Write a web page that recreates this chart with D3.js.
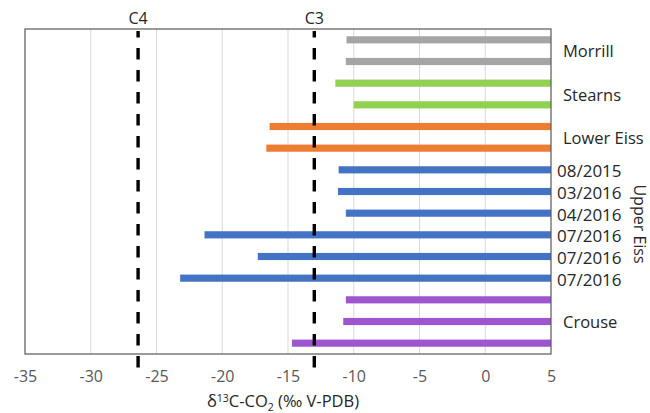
<!DOCTYPE html>
<html><head><meta charset="utf-8">
<script src="https://cdn.jsdelivr.net/npm/d3@7"></script>
<style>body{margin:0;background:#fff}svg{display:block}</style>
</head><body>
<svg id="chart" width="650" height="413"></svg>
<script>
const categories = ["M1","M2","S1","S2","L1","L2","U1","U2","U3","U4","U5","U6","C1","C2","C3"];
const values = [-10.55,-10.6,-11.4,-10.0,-16.4,-16.65,-11.15,-11.2,-10.6,-21.35,-17.3,-23.2,-10.6,-10.8,-14.7];
const groups = ["Morrill","Morrill","Stearns","Stearns","Lower Eiss","Lower Eiss","Upper Eiss","Upper Eiss","Upper Eiss","Upper Eiss","Upper Eiss","Upper Eiss","Crouse","Crouse","Crouse"];
const groupColors = {"Morrill":"#a5a5a5","Stearns":"#92d050","Lower Eiss":"#ed7d31","Upper Eiss":"#4472c4","Crouse":"#9e55d0"};
const barLabels = ["","","","","","","08/2015","03/2016","04/2016","07/2016","07/2016","07/2016","","",""];
const groupLabels = [{name:"Morrill",at:["M1","M2"]},{name:"Stearns",at:["S1","S2"]},{name:"Lower Eiss",at:["L1","L2"]},{name:"Crouse",at:["C2","C2"]}];
const xTicks = [-35,-30,-25,-20,-15,-10,-5,0,5];
const refLines = [{name:"C4",value:-26.4},{name:"C3",value:-13.0}];

const svg = d3.select("#chart");
const m = {left:25, right:551, top:29, bottom:354};
const x = d3.scaleLinear().domain([-35,5]).range([m.left,m.right]);
const y = d3.scaleBand().domain(categories).range([m.top,m.bottom]).paddingInner(0.67).paddingOuter(0.335);
const font = "'Open Sans', sans-serif";

// gridlines
svg.append("g").selectAll("line").data(xTicks.slice(1,-1)).join("line")
  .attr("x1",d=>x(d)).attr("x2",d=>x(d)).attr("y1",m.top).attr("y2",m.bottom)
  .attr("stroke","#d9d9d9").attr("stroke-width",1);

// bars
svg.append("g").selectAll("rect").data(categories).join("rect")
  .attr("x",(d,i)=>x(values[i])).attr("width",(d,i)=>x(5)-x(values[i]))
  .attr("y",d=>y(d)).attr("height",y.bandwidth())
  .attr("fill",(d,i)=>groupColors[groups[i]]);

// frame
svg.append("rect").attr("x",m.left).attr("y",m.top).attr("width",m.right-m.left).attr("height",m.bottom-m.top)
  .attr("fill","none").attr("stroke","#595959").attr("stroke-width",1.2);

// axis
const axis = d3.axisBottom(x).tickValues(xTicks).tickSize(0).tickPadding(17).tickFormat(d=>d<0?"-"+Math.abs(d):d);
const ag = svg.append("g").attr("transform",`translate(0,${m.bottom})`).call(axis);
ag.select(".domain").remove();
ag.selectAll("text").attr("font-family",font).attr("font-size",16).attr("fill","#595959");

// reference dashed lines
svg.append("g").selectAll("line").data(refLines).join("line")
  .attr("x1",d=>x(d.value)).attr("x2",d=>x(d.value)).attr("y1",31).attr("y2",378)
  .attr("stroke","#000").attr("stroke-width",3.4).attr("stroke-dasharray","11.5,10.5").attr("stroke-dashoffset",5);
svg.append("g").selectAll("text").data(refLines).join("text")
  .attr("x",d=>x(d.value)).attr("y",24).attr("text-anchor","middle")
  .attr("font-family",font).attr("font-size",16).attr("fill","#262626").text(d=>d.name);

// right labels
svg.append("g").selectAll("text").data(categories.filter((d,i)=>barLabels[i])).join("text")
  .attr("x",557).attr("y",d=>y(d)+y.bandwidth()/2+1.5).attr("dy","0.35em")
  .attr("font-family",font).attr("font-size",17).attr("fill","#262626")
  .text(d=>barLabels[categories.indexOf(d)]);
svg.append("g").selectAll("text").data(groupLabels).join("text")
  .attr("x",563).attr("y",d=>(y(d.at[0])+y(d.at[1]))/2+y.bandwidth()/2+1).attr("dy","0.35em")
  .attr("font-family",font).attr("font-size",16.5).attr("fill","#262626").text(d=>d.name);
const uCats = categories.filter((d,i)=>groups[i]==="Upper Eiss");
const uMid = (y(uCats[0])+y(uCats[uCats.length-1])+y.bandwidth())/2;
svg.append("text").attr("transform",`translate(634,${uMid}) rotate(90)`).attr("text-anchor","middle")
  .attr("font-family",font).attr("font-size",16).attr("fill","#262626").text("Upper Eiss");

// axis title
const t = svg.append("text").attr("x",283).attr("y",407).attr("text-anchor","middle")
  .attr("font-family",font).attr("font-size",16.5).attr("fill","#262626");
t.append("tspan").text("δ");
t.append("tspan").attr("font-size",10.5).attr("dy",-5.5).text("13");
t.append("tspan").attr("dy",5.5).text("C-CO");
t.append("tspan").attr("font-size",10.5).attr("dy",4).text("2");
t.append("tspan").attr("dy",-4).text(" (‰ V-PDB)");
</script>
</body></html>
